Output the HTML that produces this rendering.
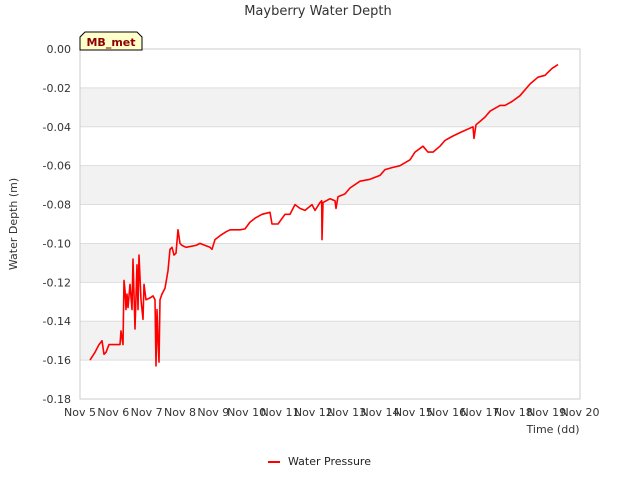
<!DOCTYPE html>
<html><head><meta charset="utf-8"><style>
body{margin:0;background:#fff;}
svg{display:block;font-family:"DejaVu Sans","Liberation Sans",sans-serif;}
</style></head><body>
<svg id="chart" width="640" height="480" viewBox="0 0 640 480">
<rect width="640" height="480" fill="#fff"/>
<text x="318" y="15" text-anchor="middle" font-size="13" fill="#333">Mayberry Water Depth</text>
<g id="bands"></g>
<g id="grid"></g>
<rect x="80" y="49" width="500" height="350" fill="none" stroke="#ccc"/>
<g id="yticks"></g>
<g id="xticks"></g>
<text x="553" y="433" text-anchor="middle" font-size="11" fill="#333">Time (dd)</text>
<text x="17" y="224" text-anchor="middle" font-size="11" fill="#333" transform="rotate(-90 17 224)">Water Depth (m)</text>
<path id="series" fill="none" stroke="#ff0000" stroke-width="1.6" stroke-linejoin="round"/>
<g>
<path d="M80,50 L80,37 L85,32 L137,32 L142,37 L142,50 Z" fill="#ffffcc" stroke="#000" stroke-width="1"/>
<text x="111" y="46" text-anchor="middle" font-size="11" font-weight="bold" fill="#8b0000">MB_met</text>
</g>
<g>
<line x1="268" y1="462" x2="280" y2="462" stroke="#ff0000" stroke-width="2"/>
<text x="288" y="465" font-size="11" fill="#222">Water Pressure</text>
</g>
</svg>
<script>
const yTicks=[0,-0.02,-0.04,-0.06,-0.08,-0.10,-0.12,-0.14,-0.16,-0.18];
const yTickLabels=["0.00","-0.02","-0.04","-0.06","-0.08","-0.10","-0.12","-0.14","-0.16","-0.18"];
const xTickLabels=["Nov 5","Nov 6","Nov 7","Nov 8","Nov 9","Nov 10","Nov 11","Nov 12","Nov 13","Nov 14","Nov 15","Nov 16","Nov 17","Nov 18","Nov 19","Nov 20"];
const days=[0.30,0.45,0.57,0.66,0.72,0.78,0.87,1.05,1.20,1.23,1.29,1.32,1.35,1.38,1.41,1.44,1.50,1.56,1.59,1.65,1.71,1.74,1.77,1.83,1.89,1.92,1.98,2.10,2.19,2.25,2.28,2.31,2.34,2.37,2.40,2.46,2.55,2.64,2.70,2.76,2.82,2.88,2.94,3.00,3.06,3.18,3.48,3.60,3.75,3.90,3.96,4.05,4.20,4.38,4.50,4.80,4.95,5.10,5.25,5.46,5.70,5.76,5.94,6.15,6.30,6.45,6.60,6.75,6.96,7.05,7.20,7.25,7.26,7.29,7.50,7.65,7.68,7.74,7.95,8.10,8.40,8.70,9.00,9.15,9.36,9.60,9.90,10.05,10.29,10.44,10.59,10.80,10.95,11.16,11.40,11.79,11.82,11.88,12.15,12.30,12.60,12.75,12.96,13.20,13.50,13.74,13.95,14.16,14.34];
const depth=[-0.160,-0.156,-0.152,-0.150,-0.157,-0.156,-0.152,-0.152,-0.152,-0.145,-0.152,-0.119,-0.124,-0.134,-0.126,-0.133,-0.121,-0.134,-0.108,-0.144,-0.111,-0.134,-0.106,-0.129,-0.139,-0.121,-0.129,-0.128,-0.127,-0.129,-0.163,-0.134,-0.150,-0.161,-0.129,-0.126,-0.123,-0.114,-0.103,-0.102,-0.106,-0.105,-0.093,-0.100,-0.101,-0.102,-0.101,-0.100,-0.101,-0.102,-0.103,-0.098,-0.096,-0.094,-0.093,-0.093,-0.0925,-0.089,-0.087,-0.085,-0.084,-0.090,-0.090,-0.085,-0.085,-0.080,-0.082,-0.083,-0.080,-0.083,-0.079,-0.078,-0.098,-0.079,-0.077,-0.078,-0.082,-0.076,-0.0745,-0.0715,-0.068,-0.067,-0.065,-0.062,-0.061,-0.060,-0.057,-0.053,-0.050,-0.053,-0.053,-0.050,-0.047,-0.045,-0.043,-0.040,-0.046,-0.039,-0.035,-0.032,-0.029,-0.029,-0.027,-0.024,-0.018,-0.0145,-0.0135,-0.010,-0.008];
const NS="http://www.w3.org/2000/svg";
const X0=80,X1=580,Y0=49,Y1=399;
function xs(d){return X0+d/15*(X1-X0);}
function ys(v){return Y0+(0-v)/0.18*(Y1-Y0);}
const bands=document.getElementById('bands'),grid=document.getElementById('grid'),yt=document.getElementById('yticks'),xt=document.getElementById('xticks');
for(let i=0;i<yTicks.length-1;i++){
  if(i%2===1){
    const r=document.createElementNS(NS,'rect');
    
    
    r.setAttribute('x',X0);r.setAttribute('width',X1-X0);
    r.setAttribute('y',ys(yTicks[i]));r.setAttribute('height',ys(yTicks[i+1])-ys(yTicks[i]));
    r.setAttribute('fill','#f2f2f2');bands.appendChild(r);
  }
}
yTicks.forEach((v,i)=>{
  const l=document.createElementNS(NS,'line');
  
  
  l.setAttribute('x1',X0);l.setAttribute('x2',X1);l.setAttribute('y1',ys(v));l.setAttribute('y2',ys(v));
  l.setAttribute('stroke','#dddddd');grid.appendChild(l);
  const t=document.createElementNS(NS,'text');
  
  
  t.setAttribute('x',71);t.setAttribute('y',ys(v)+4);t.setAttribute('text-anchor','end');
  t.setAttribute('font-size','11');t.setAttribute('fill','#333');t.textContent=yTickLabels[i];yt.appendChild(t);
});
xTickLabels.forEach((s,i)=>{
  const t=document.createElementNS(NS,'text');
  
  
  t.setAttribute('x',xs(i));t.setAttribute('y',416);t.setAttribute('text-anchor','middle');
  t.setAttribute('font-size','11');t.setAttribute('fill','#333');t.textContent=s;xt.appendChild(t);
});
let d='';
days.forEach((v,i)=>{d+=(i?'L':'M')+xs(v).toFixed(1)+','+ys(depth[i]).toFixed(1);});
document.getElementById('series').setAttribute('d',d);
</script>
</body></html>
